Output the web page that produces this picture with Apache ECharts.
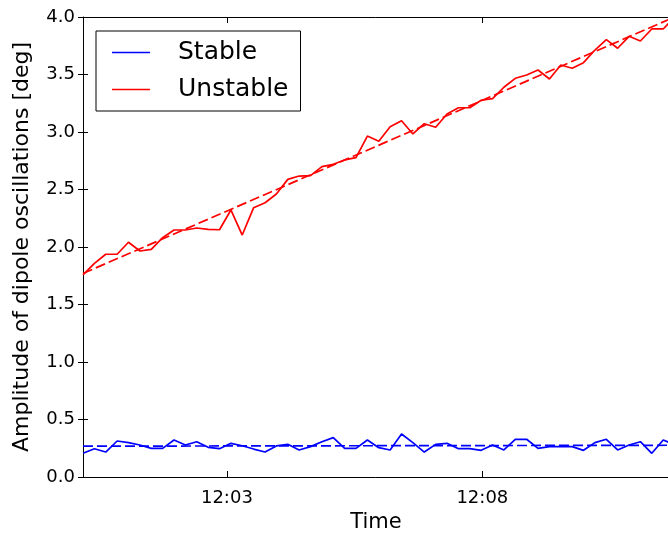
<!DOCTYPE html>
<html>
<head>
<meta charset="utf-8">
<script src="https://cdn.jsdelivr.net/npm/echarts@6/dist/echarts.min.js"></script>
<style>
  html, body { margin: 0; padding: 0; background: #fff; }
  #main { width: 668px; height: 534px; }
</style>
</head>
<body>
<div id="main"></div>
<script>
// time of each sample, seconds after 12:00:00
var times = [11.0, 24.4, 37.7, 51.1, 64.4, 77.8, 91.2, 104.5, 117.9, 131.2,
    144.6, 158.0, 171.3, 184.7, 198.0, 211.4, 224.8, 238.1, 251.5, 264.8,
    278.2, 291.6, 304.9, 318.3, 331.6, 345.0, 358.4, 371.7, 385.1, 398.4,
    411.8, 425.2, 438.5, 451.9, 465.2, 478.6, 492.0, 505.3, 518.7, 532.0,
    545.4, 558.8, 572.1, 585.5, 598.8, 612.2, 625.6, 638.9, 652.3, 665.6,
    679.0, 692.4, 705.7];

var stable = [0.206, 0.246, 0.217, 0.313, 0.299, 0.278, 0.249, 0.249, 0.322, 0.278,
    0.307, 0.258, 0.246, 0.293, 0.272, 0.243, 0.217, 0.270, 0.284, 0.235,
    0.264, 0.307, 0.342, 0.249, 0.249, 0.322, 0.255, 0.235, 0.374, 0.299,
    0.217, 0.284, 0.293, 0.246, 0.246, 0.232, 0.278, 0.235, 0.328, 0.328,
    0.249, 0.264, 0.264, 0.264, 0.232, 0.299, 0.328, 0.235, 0.278, 0.307,
    0.206, 0.322, 0.280];

var unstable = [1.757, 1.858, 1.937, 1.937, 2.041, 1.965, 1.980, 2.081, 2.148, 2.148,
    2.165, 2.154, 2.150, 2.322, 2.104, 2.342, 2.385, 2.461, 2.588, 2.617,
    2.620, 2.699, 2.719, 2.757, 2.777, 2.965, 2.920, 3.046, 3.098, 2.983,
    3.072, 3.041, 3.157, 3.211, 3.211, 3.276, 3.290, 3.389, 3.467, 3.496,
    3.539, 3.461, 3.583, 3.554, 3.603, 3.713, 3.803, 3.728, 3.832, 3.791,
    3.896, 3.896, 4.000];

// linear fits (start, end) over the same time span
var fitTimes = [11.0, 705.7];
var stableFit = [0.268, 0.276];
var unstableFit = [1.77, 4.00];

var xTicks = [180, 480];   // 12:03, 12:08

function pairs(xs, ys) {
    return xs.map(function (x, i) { return [x, ys[i]]; });
}

function fmtTime(v) {
    var m = Math.round(v / 60);
    return '12:' + (m < 10 ? '0' + m : m);
}

var font = 'DejaVu Sans';
var chart = echarts.init(document.getElementById('main'));

var option = {
    animation: false,
    textStyle: { fontFamily: font, color: '#000' },
    grid: { left: 83, top: 17, right: -1, bottom: 57, show: false, outerBoundsMode: 'none', containLabel: false },
    legend: {
        data: ['Stable', 'Unstable'],
        orient: 'vertical',
        left: 96,
        top: 31,
        padding: [7, 12, 7, 16],
        icon: 'rect',
        itemWidth: 38,
        itemHeight: 1.5,
        itemGap: 8,
        borderColor: '#000',
        borderWidth: 1,
        textStyle: { fontFamily: font, fontSize: 25, lineHeight: 29, color: '#000', padding: [0, 0, 0, 23] }
    },
    xAxis: [{
        type: 'value',
        min: 11,
        max: 699.2,
        name: 'Time',
        nameLocation: 'middle',
        nameGap: 35,
        nameTextStyle: { fontFamily: font, fontSize: 21, color: '#000' },
        axisLine: { show: true, onZero: false, lineStyle: { color: '#000', width: 1 } },
        axisTick: { show: true, inside: true, length: 6, customValues: xTicks, lineStyle: { color: '#000' } },
        axisLabel: { customValues: xTicks, formatter: fmtTime, fontFamily: font, fontSize: 18, color: '#000', margin: 12 },
        splitLine: { show: false }
    }, {
        type: 'value',
        position: 'top',
        min: 11,
        max: 699.2,
        axisLine: { show: true, onZero: false, lineStyle: { color: '#000', width: 1 } },
        axisTick: { show: true, inside: true, length: 6, customValues: xTicks, lineStyle: { color: '#000' } },
        axisLabel: { show: false },
        splitLine: { show: false }
    }],
    yAxis: [{
        type: 'value',
        min: 0,
        max: 4,
        interval: 0.5,
        name: 'Amplitude of dipole oscillations [deg]',
        nameLocation: 'middle',
        nameGap: 50,
        nameTextStyle: { fontFamily: font, fontSize: 22, color: '#000' },
        axisLine: { show: true, onZero: false, lineStyle: { color: '#000', width: 1 } },
        axisTick: { show: true, inside: true, length: 5, lineStyle: { color: '#000' } },
        axisLabel: {
            fontFamily: font, fontSize: 18, color: '#000', margin: 8,
            formatter: function (v) { return v.toFixed(1); }
        },
        splitLine: { show: false }
    }, {
        type: 'value',
        min: 0,
        max: 4,
        interval: 0.5,
        position: 'left',
        axisLine: { show: false },
        axisTick: { show: true, inside: false, length: 5, lineStyle: { color: '#000' } },
        axisLabel: { show: false },
        splitLine: { show: false }
    }],
    series: [{
        name: 'Stable',
        type: 'line',
        symbol: 'none',
        data: pairs(times, stable),
        lineStyle: { color: '#0000ff', width: 1.7 },
        itemStyle: { color: '#0000ff' }
    }, {
        name: 'Unstable',
        type: 'line',
        symbol: 'none',
        data: pairs(times, unstable),
        lineStyle: { color: '#ff0000', width: 1.7 },
        itemStyle: { color: '#ff0000' }
    }, {
        name: 'Stable fit',
        type: 'line',
        symbol: 'none',
        data: pairs(fitTimes, stableFit),
        lineStyle: { color: '#0000ff', width: 1.7, type: [10, 4] }
    }, {
        name: 'Unstable fit',
        type: 'line',
        symbol: 'none',
        data: pairs(fitTimes, unstableFit),
        lineStyle: { color: '#ff0000', width: 1.7, type: [10, 4] }
    }]
};

chart.setOption(option);
</script>
</body>
</html>
